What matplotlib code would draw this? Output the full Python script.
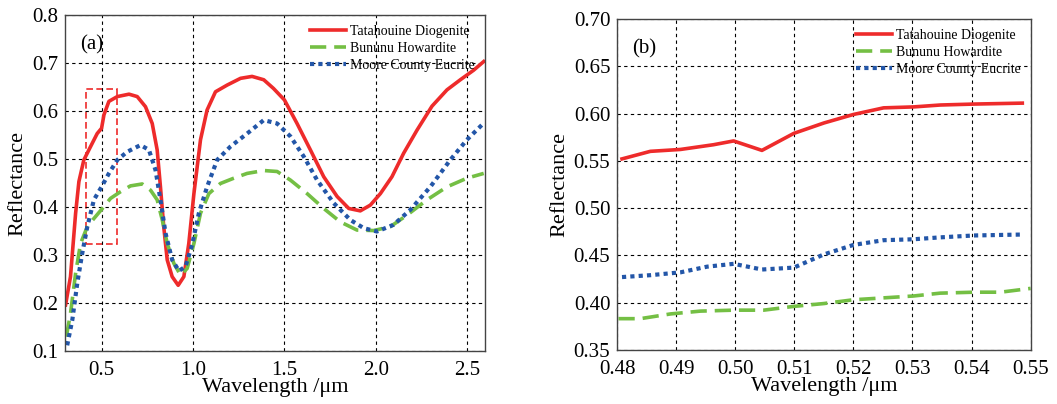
import matplotlib
matplotlib.use("Agg")
import matplotlib.pyplot as plt
from matplotlib.patches import Rectangle

plt.rcParams['font.family'] = ['Liberation Serif', 'DejaVu Serif']

names = ['Tatahouine Diogenite', 'Bununu Howardite', 'Moore County Eucrite']

# full spectrum, panel (a)
wl_tat = [0.303, 0.33, 0.358, 0.376, 0.403, 0.44, 0.476, 0.5, 0.513, 0.54, 0.586,
          0.65, 0.695, 0.74, 0.777, 0.804, 0.822, 0.84, 0.859, 0.886, 0.919, 0.95,
          0.977, 1.005, 1.041, 1.077, 1.123, 1.187, 1.26, 1.323, 1.387, 1.44, 1.5,
          1.569, 1.642, 1.715, 1.788, 1.852, 1.915, 1.97, 2.025, 2.088, 2.152,
          2.225, 2.307, 2.389, 2.462, 2.535, 2.59]
r_tat = [0.196, 0.255, 0.387, 0.453, 0.498, 0.526, 0.553, 0.564, 0.592, 0.62, 0.63,
         0.635, 0.63, 0.609, 0.574, 0.519, 0.442, 0.359, 0.29, 0.255, 0.237, 0.255,
         0.324, 0.428, 0.54, 0.602, 0.64, 0.654, 0.668, 0.672, 0.665, 0.647, 0.623,
         0.574, 0.519, 0.463, 0.422, 0.397, 0.392, 0.404, 0.428, 0.463, 0.512,
         0.56, 0.61, 0.644, 0.665, 0.685, 0.703]

wl_bun = [0.307, 0.33, 0.358, 0.385, 0.422, 0.458, 0.5, 0.549, 0.604, 0.658, 0.722,
          0.768, 0.804, 0.832, 0.859, 0.895, 0.932, 0.968, 1.005, 1.041, 1.087,
          1.15, 1.223, 1.296, 1.387, 1.46, 1.533, 1.624, 1.715, 1.806, 1.897,
          1.988, 2.079, 2.17, 2.28, 2.389, 2.498, 2.59]
r_bun = [0.13, 0.178, 0.262, 0.324, 0.359, 0.376, 0.395, 0.418, 0.432, 0.444, 0.448,
         0.435, 0.415, 0.373, 0.324, 0.283, 0.258, 0.272, 0.324, 0.387, 0.428,
         0.449, 0.46, 0.47, 0.476, 0.474, 0.456, 0.428, 0.397, 0.369, 0.352,
         0.351, 0.359, 0.383, 0.415, 0.442, 0.46, 0.47]

wl_moo = [0.312, 0.34, 0.367, 0.394, 0.422, 0.458, 0.5, 0.54, 0.586, 0.64, 0.713,
          0.759, 0.795, 0.822, 0.85, 0.886, 0.923, 0.959, 0.995, 1.032, 1.077,
          1.132, 1.205, 1.296, 1.387, 1.46, 1.533, 1.606, 1.679, 1.77, 1.861,
          1.934, 2.006, 2.097, 2.188, 2.298, 2.407, 2.498, 2.58]
r_moo = [0.112, 0.165, 0.241, 0.303, 0.359, 0.415, 0.442, 0.47, 0.498, 0.515, 0.529,
         0.519, 0.477, 0.415, 0.345, 0.29, 0.267, 0.276, 0.321, 0.387, 0.442,
         0.498, 0.526, 0.553, 0.581, 0.574, 0.547, 0.505, 0.456, 0.408, 0.373,
         0.356, 0.349, 0.363, 0.394, 0.442, 0.498, 0.54, 0.571]

# zoomed window, panel (b)
wl_tat_b = [0.4808, 0.4856, 0.4907, 0.4963, 0.4997, 0.5045, 0.5099, 0.515, 0.52,
            0.5251, 0.5302, 0.5347, 0.5404, 0.5486]
r_tat_b = [0.552, 0.56, 0.562, 0.567, 0.571, 0.561, 0.579, 0.59, 0.599,
           0.606, 0.607, 0.609, 0.61, 0.611]

wl_bun_b = [0.4802, 0.4839, 0.489, 0.4941, 0.4997, 0.5048, 0.5099, 0.515, 0.52,
            0.5251, 0.5302, 0.5347, 0.5404, 0.5449, 0.55]
r_bun_b = [0.383, 0.383, 0.388, 0.391, 0.392, 0.392, 0.396, 0.399, 0.403,
           0.405, 0.407, 0.41, 0.411, 0.411, 0.415]

wl_moo_b = [0.4808, 0.4856, 0.4907, 0.4952, 0.4997, 0.5045, 0.5099, 0.515, 0.52,
            0.5251, 0.5302, 0.5347, 0.5404, 0.5486]
r_moo_b = [0.427, 0.429, 0.432, 0.438, 0.441, 0.435, 0.437, 0.451, 0.461,
           0.466, 0.467, 0.469, 0.471, 0.472]

colors = ['#ee2b2b', '#74bf44', '#2356a8']
styles = [dict(linestyle='-', lw=2.6),
          dict(linestyle=(0, (4.5, 2.2)), lw=2.6),
          dict(linestyle=(0, (1, 1)), lw=3.0)]

fig = plt.figure(figsize=(10.57, 4.04), dpi=100)
ax1 = fig.add_axes([0.0615, 0.131, 0.397, 0.832])
ax2 = fig.add_axes([0.584, 0.134, 0.391, 0.819])


def style_axes(ax):
    ax.grid(True, color='black', linestyle=(0, (3, 3)), lw=0.8)
    ax.tick_params(length=0, labelsize=15, pad=5)
    ax.tick_params(axis='x', pad=7)
    for s in ax.spines.values():
        s.set_color('#444444')
        s.set_linewidth(1.0)
    ax.set_xlabel('Wavelength /μm', fontsize=16, labelpad=-1)
    ax.set_ylabel('Reflectance', fontsize=16, labelpad=3)


data_a = [(wl_tat, r_tat), (wl_bun, r_bun), (wl_moo, r_moo)]
for (x, y), c, st, n in zip(data_a, colors, styles, names):
    ax1.plot(x, y, color=c, label=n, **st)
# box marking the 0.48-0.55 um window shown in (b)
ax1.add_patch(Rectangle((0.415, 0.323), 0.17, 0.323, fill=False,
                        edgecolor='#ee2b2b', linestyle=(0, (4, 2)), lw=1.2))
ax1.set_xlim(0.3, 2.595)
ax1.set_ylim(0.1, 0.8)
ax1.set_xticks([0.5, 1.0, 1.5, 2.0, 2.5])
ax1.set_xticklabels(['0.5', '1.0', '1.5', '2.0', '2.5'])
ax1.set_yticks([0.1, 0.2, 0.3, 0.4, 0.5, 0.6, 0.7, 0.8])
style_axes(ax1)
ax1.text(0.035, 0.91, '(a)', transform=ax1.transAxes, fontsize=15, va='center')

data_b = [(wl_tat_b, r_tat_b), (wl_bun_b, r_bun_b), (wl_moo_b, r_moo_b)]
for (x, y), c, st, n in zip(data_b, colors, styles, names):
    ax2.plot(x, y, color=c, label=n, **st)
ax2.set_xlim(0.48, 0.55)
ax2.set_ylim(0.35, 0.70)
ax2.set_xticks([0.48, 0.49, 0.50, 0.51, 0.52, 0.53, 0.54, 0.55])
ax2.set_xticklabels(['%.2f' % v for v in ax2.get_xticks()])
ax2.set_yticks([0.35, 0.40, 0.45, 0.50, 0.55, 0.60, 0.65, 0.70])
ax2.set_yticklabels(['%.2f' % v for v in ax2.get_yticks()])
style_axes(ax2)
ax2.text(0.035, 0.91, '(b)', transform=ax2.transAxes, fontsize=15, va='center')

for ax in (ax1, ax2):
    ax.legend(loc='upper right', frameon=False, fontsize=10,
              handlelength=2.6, handletextpad=0.3, labelspacing=0.3,
              borderaxespad=0.3)

fig.savefig('out.png', dpi=100)
